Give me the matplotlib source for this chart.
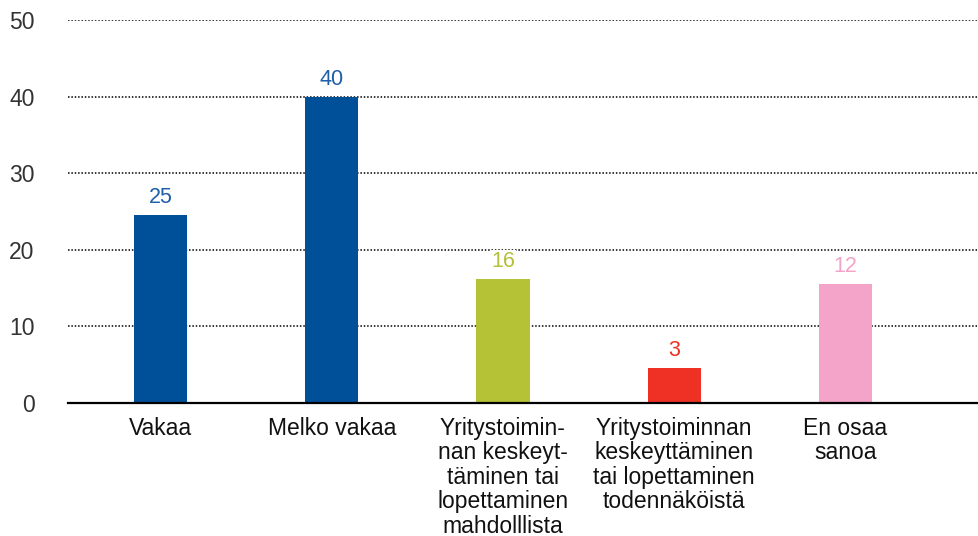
"""
Bar chart: outlook of company operations (share of respondents, %).
"""
import matplotlib
matplotlib.use("Agg")
import matplotlib.pyplot as plt

categories = [
    "Vakaa",
    "Melko vakaa",
    "Yritystoimin-\nnan keskeyt-\ntäminen tai\nlopettaminen\nmahdolllista",
    "Yritystoiminnan\nkeskeyttäminen\ntai lopettaminen\ntodennäköistä",
    "En osaa\nsanoa",
]
bar_values = [24.6, 39.9, 16.2, 4.6, 15.5]     # heights as drawn
value_labels = ["25", "40", "16", "3", "12"]  # printed numbers
y_ticks = [0, 10, 20, 30, 40, 50]

BAR_COLORS = ["#004f99", "#004f99", "#b6c236", "#ee3124", "#f4a3c9"]
LABEL_COLORS = ["#1f5ea8", "#1f5ea8", "#b5c03a", "#ee3124", "#f4a3c8"]

plt.rcParams["font.family"] = ["Liberation Sans", "DejaVu Sans"]


def main():
    """ main
    """
    fig = plt.figure(figsize=(9.79, 5.36), dpi=100)
    ax = fig.add_axes([0.0695, 0.2481, 0.9305, 0.7146])

    x = list(range(len(categories)))
    bars = ax.bar(x, bar_values, width=0.31, color=BAR_COLORS, zorder=3)

    # value labels above bars
    for bar, text, col in zip(bars, value_labels, LABEL_COLORS):
        ax.annotate(
            text,
            xy=(bar.get_x() + bar.get_width() / 2, bar.get_height()),
            xytext=(0, 5), textcoords="offset points",
            ha="center", va="bottom", fontsize=15.5, color=col,
            bbox=dict(facecolor="white", edgecolor="none", pad=1),
            zorder=4)

    ax.set_xlim(-0.54, 4.78)
    ax.set_ylim(0, 50)
    ax.set_yticks(y_ticks)
    ax.set_xticks(x)
    ax.set_xticklabels(categories, fontsize=16.5, linespacing=1.08,
                       color="#111111")
    ax.tick_params(axis="x", length=0, pad=10)
    ax.tick_params(axis="y", length=0, pad=24, labelsize=16.5,
                   labelcolor="#333333")

    # dotted gridlines
    for t in y_ticks[1:]:
        ax.axhline(t, color="black", lw=1.1, linestyle=(0, (1, 1.2)),
                   zorder=1)

    for side in ["top", "right", "left"]:
        ax.spines[side].set_visible(False)
    ax.spines["bottom"].set_color("black")
    ax.spines["bottom"].set_linewidth(1.6)
    ax.spines["bottom"].set_zorder(5)

    fig.savefig("out.png", dpi=100)
    plt.close(fig)


if __name__ == '__main__':
    main()
